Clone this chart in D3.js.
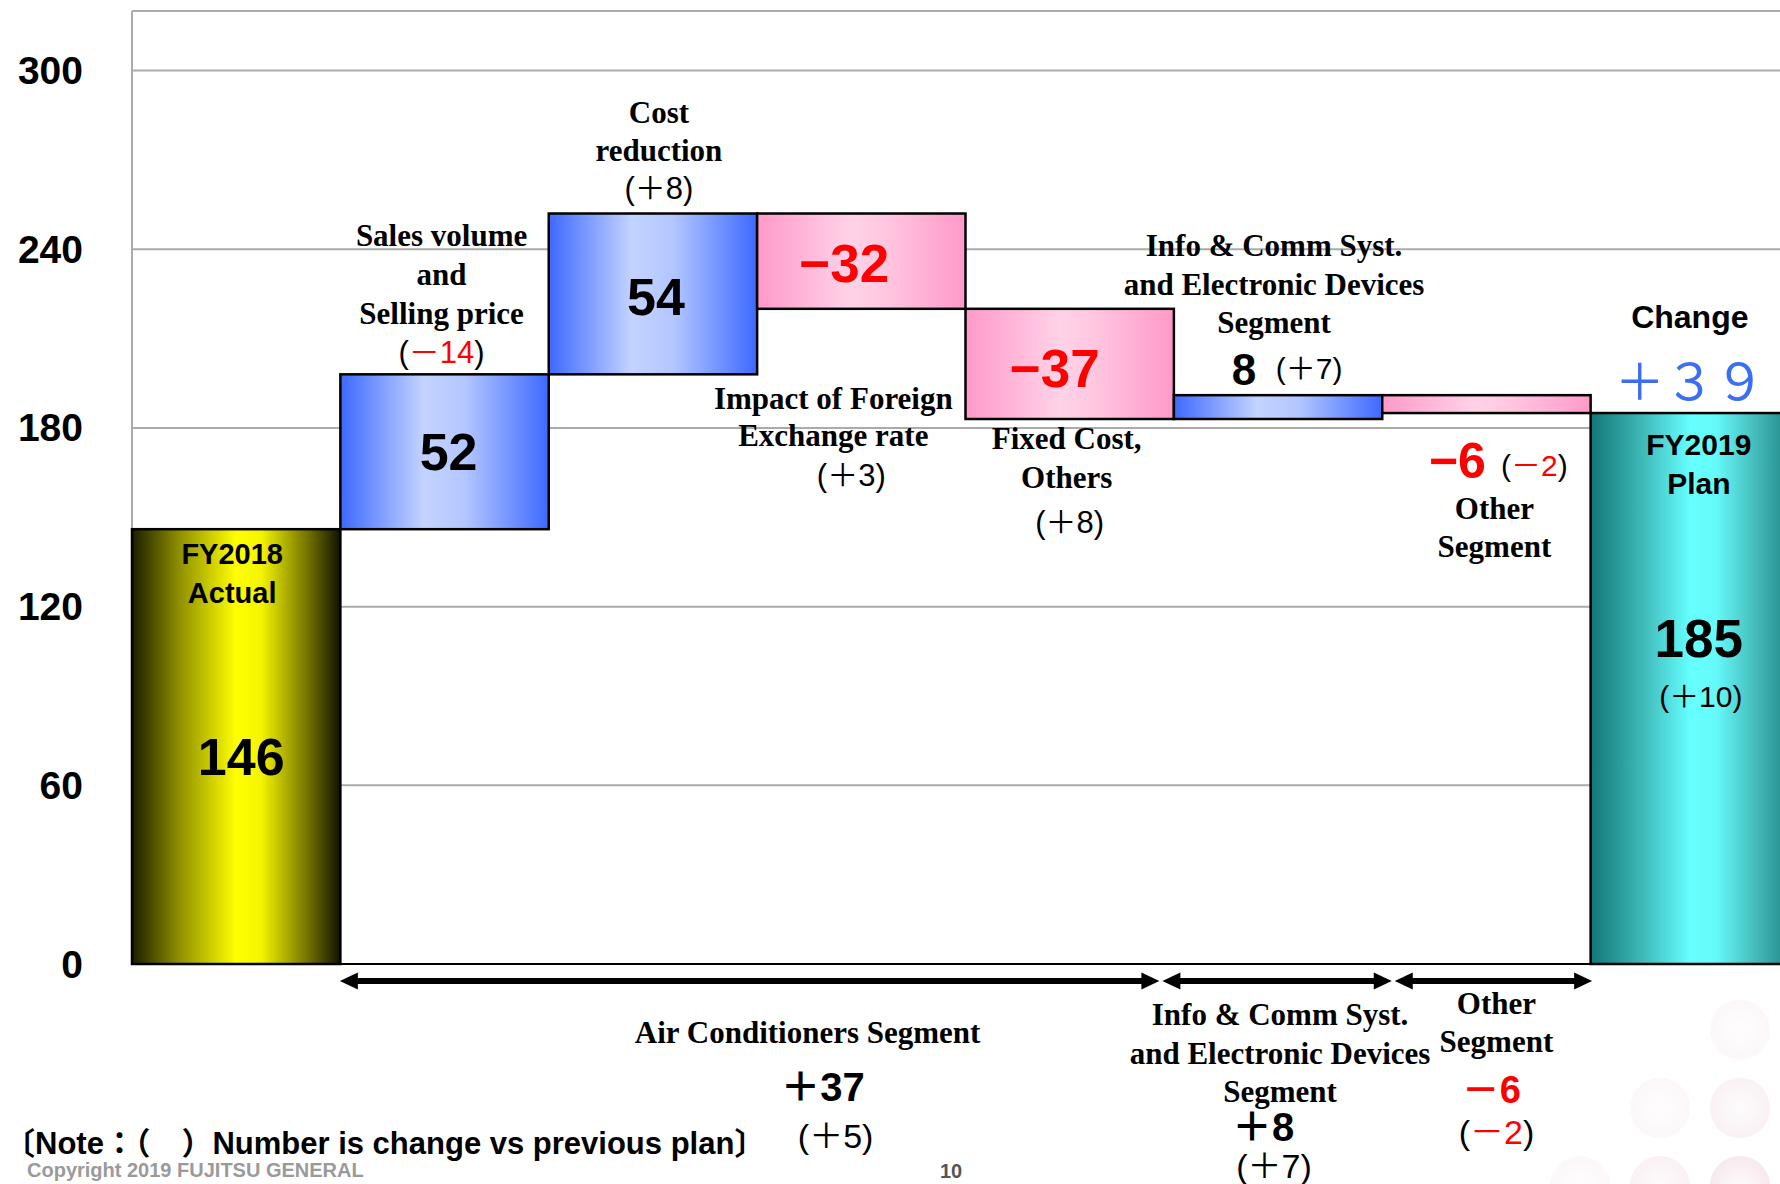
<!DOCTYPE html>
<html>
<head>
<meta charset="utf-8">
<script src="https://cdn.jsdelivr.net/npm/d3@7"></script>
<style>
  html, body { margin: 0; padding: 0; background: #fff; overflow: hidden; }
  svg { display: block; }
</style>
</head>
<body>
<svg id="chart"></svg>
<script>
// données du graphique en cascade (résultat opérationnel, Mds de yens)
var categories = ["FY2018 Actual", "Sales volume and Selling price", "Cost reduction",
  "Impact of Foreign Exchange rate", "Fixed Cost, Others",
  "Info & Comm Syst. and Electronic Devices Segment", "Other Segment", "FY2019 Plan"]
var values = [146, 52, 54, -32, -37, 8, -6, 185]
var isTotal = [true, false, false, false, false, false, false, true]
// ( ) = écart avec le plan précédent
var vsPlan = [null, -14, 8, 3, 8, 7, -2, 10]

var segments = ["Air Conditioners Segment", "Info & Comm Syst. and Electronic Devices Segment", "Other Segment"]
var segmentFirst = [1, 5, 6]
var segmentLast = [4, 5, 6]
var segmentValues = [37, 8, -6]
var segmentVsPlan = [5, 7, -2]

var yTicks = [0, 60, 120, 180, 240, 300]
var totalChange = 39

var W = 1780, H = 1184
var gothic = "'Liberation Sans', 'Noto Sans CJK JP', sans-serif"
var cjk = "'Noto Sans CJK JP', 'Liberation Sans', sans-serif"
var serif = "'Liberation Serif', serif"
var RED = "#ff0000"

var svg = d3.select("#chart").attr("width", W).attr("height", H)

var x = d3.scaleBand().domain(categories).range([132, 1799]).padding(0)
var y = d3.scaleLinear().domain([0, 320]).range([964, 11])
var bw = x.bandwidth()
function mid(i) { return x(categories[i]) + bw / 2 }

// calcul de la cascade
var bars = []
var run = 0
values.forEach(function(v, i) {
  var lo, hi
  if (isTotal[i]) { lo = 0; hi = v; run = v }
  else { lo = Math.min(run, run + v); hi = Math.max(run, run + v); run += v }
  bars.push({ i: i, cat: categories[i], v: v, lo: lo, hi: hi })
})

// dégradés horizontaux
var defs = svg.append("defs")
function grad(id, stops) {
  var lg = defs.append("linearGradient").attr("id", id)
    .attr("x1", "0%").attr("x2", "100%").attr("y1", "0%").attr("y2", "0%")
  stops.forEach(function(s) { lg.append("stop").attr("offset", s[0]).attr("stop-color", s[1]) })
}
grad("gYellow", [["0%", "#1c1c00"], ["22%", "#8c8c00"], ["50%", "#ffff00"], ["62%", "#f4f400"], ["85%", "#6e6e00"], ["100%", "#121200"]])
grad("gBlue", [["0%", "#3d69ff"], ["40%", "#c4d3ff"], ["60%", "#b3c6ff"], ["100%", "#3d69ff"]])
grad("gPink", [["0%", "#ff99c9"], ["45%", "#ffd2e7"], ["60%", "#ffc8e1"], ["100%", "#ff99c9"]])
grad("gCyan", [["0%", "#127676"], ["25%", "#3fb9b9"], ["48%", "#66ffff"], ["60%", "#66fafa"], ["85%", "#3aa8a8"], ["100%", "#147a7a"]])

var dots = defs.append("radialGradient").attr("id", "gDot")
dots.append("stop").attr("offset", "0%").attr("stop-color", "#f6e8ec")
dots.append("stop").attr("offset", "100%").attr("stop-color", "#d898aa")

// décor : pastilles roses en bas à droite
var dotRows = [1030, 1108, 1186]
var dotCols = [1420, 1500, 1580, 1660, 1740]
dotRows.forEach(function(cy, r) {
  dotCols.forEach(function(cx, c) {
    var op = (r + c - 3) * 0.07
    if (op <= 0) return
    svg.append("circle").attr("cx", cx).attr("cy", cy).attr("r", 30)
      .attr("fill", "url(#gDot)").attr("opacity", Math.min(op, 0.4))
  })
})

// grille
svg.selectAll("line.grid")
  .data(yTicks.concat([320]))
  .enter()
  .append("line")
  .attr("class", "grid")
  .attr("x1", x.range()[0]).attr("x2", W)
  .attr("y1", function(d) { return y(d) }).attr("y2", function(d) { return y(d) })
  .attr("style", "stroke:#ababab;stroke-width:2")

svg.append("line")
  .attr("x1", x.range()[0]).attr("x2", x.range()[0])
  .attr("y1", y(320)).attr("y2", y(0))
  .attr("style", "stroke:#ababab;stroke-width:2")

// barres
svg.selectAll("rect.bar")
  .data(bars)
  .enter()
  .append("rect")
  .attr("class", "bar")
  .attr("x", function(d) { return x(d.cat) })
  .attr("y", function(d) { return y(d.hi) })
  .attr("width", bw)
  .attr("height", function(d) { return y(d.lo) - y(d.hi) })
  .attr("fill", function(d) {
    if (d.i == 0) return "url(#gYellow)"
    if (d.i == categories.length - 1) return "url(#gCyan)"
    return d.v > 0 ? "url(#gBlue)" : "url(#gPink)"
  })
  .attr("style", "stroke:#000;stroke-width:2.5")

// axe 0
svg.append("line")
  .attr("x1", x.range()[0]).attr("x2", W)
  .attr("y1", y(0)).attr("y2", y(0))
  .attr("style", "stroke:#000;stroke-width:2")

// graduations
svg.selectAll("text.tick")
  .data(yTicks)
  .enter()
  .append("text")
  .attr("class", "tick")
  .attr("x", 83)
  .attr("y", function(d) { return y(d) })
  .attr("text-anchor", "end")
  .attr("dominant-baseline", "central")
  .style("font-family", gothic).style("font-size", "39px").style("font-weight", "bold")
  .text(function(d) { return d })

// textes
function put(parts, px, py, size, font, weight, color) {
  var t = svg.append("text").attr("x", px).attr("y", py)
    .attr("text-anchor", "middle").attr("dominant-baseline", "central")
    .style("font-family", font).style("font-size", size + "px").style("font-weight", weight || "normal")
  if (typeof parts === "string") parts = [[parts, color || "#000"]]
  parts.forEach(function(p) { t.append("tspan").attr("fill", p[1]).text(p[0]) })
  return t
}
function lines(arr, px, py, step) {
  arr.forEach(function(s, k) { put(s, px, py + k * step, 31, serif, "bold") })
}
function plan(v) {
  var s = (v < 0 ? "－" : "＋") + Math.abs(v)
  return [["(", "#000"], [s, v < 0 ? RED : "#000"], [")", "#000"]]
}
function val(v) { return v < 0 ? "\u2212" + Math.abs(v) : String(v) }
function barMid(b) { return (y(b.lo) + y(b.hi)) / 2 }
function fullWidth(n) {
  return String(n).replace(/\d/g, function(c) { return String.fromCharCode(c.charCodeAt(0) + 0xFEE0) })
}

// FY2018
var b = bars[0], cx = mid(0)
put("FY2018", cx - 4, y(b.hi) + 25, 29, gothic, "bold")
put("Actual", cx - 4, y(b.hi) + 64, 29, gothic, "bold")
put(val(b.v), cx + 5, barMid(b) + 10, 52, gothic, "bold")

// ventes
b = bars[1]; cx = mid(1)
lines(["Sales volume", "and", "Selling price"], cx - 3, y(b.hi) - 139, 38.8)
put(plan(vsPlan[1]), cx - 3, y(b.hi) - 22, 31, gothic)
put(val(b.v), cx + 4, barMid(b), 52, gothic, "bold")

// réduction des coûts
b = bars[2]; cx = mid(2)
lines(["Cost", "reduction"], cx + 6, y(b.hi) - 102, 38.8)
put(plan(vsPlan[2]), cx + 6, y(b.hi) - 26, 31, gothic)
put(val(b.v), cx + 3, barMid(b) + 3, 52, gothic, "bold")

// change
b = bars[3]; cx = mid(3)
put(val(b.v), cx - 17, barMid(b) + 2, 53, gothic, "bold", RED)
lines(["Impact of Foreign", "Exchange rate"], cx - 28, y(b.lo) + 89, 37.5)
put(plan(vsPlan[3]), cx - 10, y(b.lo) + 166, 31, gothic)

// coûts fixes
b = bars[4]; cx = mid(4)
put(val(b.v), cx - 15, barMid(b) + 4, 53, gothic, "bold", RED)
lines(["Fixed Cost,", "Others"], cx - 3, y(b.lo) + 19, 38.6)
put(plan(vsPlan[4]), cx, y(b.lo) + 103, 31, gothic)

// info & comm
b = bars[5]; cx = mid(5)
lines(["Info & Comm Syst.", "and Electronic Devices", "Segment"], cx - 4, y(b.hi) - 150, 38.6)
put(val(b.v), cx - 34, y(b.hi) - 26, 44, gothic, "bold")
put(plan(vsPlan[5]), cx + 31, y(b.hi) - 27, 30, gothic)

// autres
b = bars[6]; cx = mid(6)
put(val(b.v), cx - 29, y(b.lo) + 48, 50, gothic, "bold", RED)
put(plan(vsPlan[6]), cx + 48, y(b.lo) + 52, 30, gothic)
lines(["Other", "Segment"], cx + 8, y(b.lo) + 94.5, 38.6)

// FY2019
b = bars[7]; cx = mid(7)
put("Change", cx - 5, y(b.hi) - 96, 32, gothic, "bold")
put("＋" + fullWidth(totalChange), cx - 5, y(b.hi) - 35, 50, cjk, "normal", "#3c6ef5")
put("FY2019", cx + 4, y(b.hi) + 31, 30, gothic, "bold")
put("Plan", cx + 4, y(b.hi) + 70, 30, gothic, "bold")
put(val(b.v), cx + 4, y(b.hi) + 225, 53, gothic, "bold")
put(plan(vsPlan[7]), cx + 6, y(b.hi) + 283, 30, gothic)

// flèches des segments
var y0 = y(0)
var edges = [x(categories[segmentFirst[0]]) - 2, x(categories[segmentFirst[1]]) - 13,
  x(categories[segmentFirst[2]]) + 11, x(categories[segmentLast[2]]) + bw + 3]
var ay = y0 + 17
for (var k = 0; k < segments.length; k++) {
  var a1 = edges[k] + 1.5, a2 = edges[k + 1] - 1.5
  svg.append("line")
    .attr("x1", a1 + 10).attr("x2", a2 - 10)
    .attr("y1", ay).attr("y2", ay)
    .attr("style", "stroke:#000;stroke-width:6")
  svg.append("path")
    .attr("d", "M " + a1 + " " + ay + " l 18 -8.5 l 0 17 z")
    .attr("fill", "#000")
  svg.append("path")
    .attr("d", "M " + a2 + " " + ay + " l -18 -8.5 l 0 17 z")
    .attr("fill", "#000")
}

function signed(v) { return (v < 0 ? "－" : "＋") + Math.abs(v) }

// légendes des segments
var sx = (edges[0] + edges[1]) / 2
put(segments[0], sx + 58, y0 + 68, 31, serif, "bold")
put(signed(segmentValues[0]), sx + 73, y0 + 123, 40, gothic, "bold")
put(plan(segmentVsPlan[0]), sx + 86, y0 + 172, 34, gothic)

sx = mid(5)
lines(["Info & Comm Syst.", "and Electronic Devices", "Segment"], sx + 2, y0 + 50, 38.6)
put(signed(segmentValues[1]), sx - 15, y0 + 163, 40, gothic, "bold")
put(plan(segmentVsPlan[1]), sx - 4, y0 + 202, 34, gothic)

sx = mid(6)
lines(["Other", "Segment"], sx + 10, y0 + 38.6, 38.6)
put(signed(segmentValues[2]), sx + 5, y0 + 126, 38, gothic, "bold", RED)
put(plan(segmentVsPlan[2]), sx + 10, y0 + 168, 34, gothic)

// note et pied de page
svg.append("text")
  .attr("x", 4).attr("y", 1143)
  .attr("dominant-baseline", "central")
  .style("font-family", gothic).style("font-size", "31px").style("font-weight", "bold")
  .text("〔Note：（　）Number is change vs previous plan〕")

svg.append("text")
  .attr("x", 27).attr("y", 1177)
  .style("font-family", gothic).style("font-size", "20px").style("font-weight", "bold")
  .attr("fill", "#9a9a9a")
  .text("Copyright 2019 FUJITSU GENERAL")

svg.append("text")
  .attr("x", 940).attr("y", 1178)
  .style("font-family", gothic).style("font-size", "20px").style("font-weight", "bold")
  .attr("fill", "#555")
  .text("10")
</script>
</body>
</html>
